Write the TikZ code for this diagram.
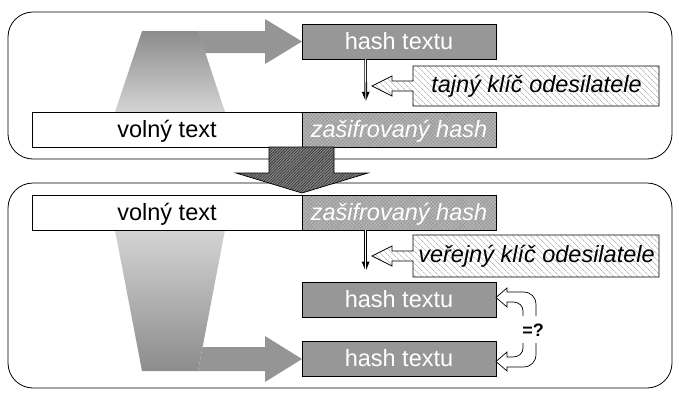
\documentclass[tikz,border=0pt]{standalone}
\usepackage{fontspec}
\setmainfont{Liberation Sans}
\usetikzlibrary{patterns,patterns.meta,arrows.meta}
\definecolor{hashgray}{HTML}{979797}
\definecolor{enc}{HTML}{999999}
\definecolor{encline}{HTML}{BCBCBC}
\definecolor{keyline}{HTML}{BDBDBD}
\definecolor{trapdark}{HTML}{8C8C8C}
\definecolor{traplight}{HTML}{D4D4D4}
\definecolor{arrowgray}{HTML}{959595}
\definecolor{downfill}{HTML}{8A8A8A}
\definecolor{downline}{HTML}{3A3A3A}
\begin{document}
\begin{tikzpicture}[x=1pt,y=-1pt,
  bigfont/.style={font=\fontsize{23.5}{28}\selectfont},
  box/.style={draw=black,line width=0.7pt,minimum height=35pt,inner sep=0pt,
    text height=15pt,text depth=0pt,bigfont},
  plainbox/.style={box,fill=white,minimum width=270pt},
  hashbox/.style={box,fill=hashgray,text=white,minimum width=194pt},
  encbox/.style={box,text=white,minimum width=194pt,
    font=\fontsize{23.5}{28}\selectfont\itshape,
    preaction={fill=enc},
    pattern={Hatch[angle=45,distance=2.5pt,line width=0.5pt]},pattern color=encline},
  keyshape/.style={draw=black,line width=0.7pt,preaction={fill=white},
    pattern={Lines[angle=-45,distance=4pt,line width=0.8pt]},pattern color=keyline},
  keytext/.style={inner sep=0pt,text height=15pt,text depth=0pt,
    font=\fontsize{23.5}{28}\selectfont\itshape},
  panel/.style={draw=black,line width=0.8pt,rounded corners=25pt},
  flowarrow/.style={fill=arrowgray},
  downarrow/.style={draw=black,line width=0.7pt,preaction={fill=downfill},
    pattern={Lines[angle=45,distance=2pt,line width=0.8pt]},pattern color=downline},
  dblarrow/.style={preaction={draw=black,line width=2.6pt,-{Triangle[width=7pt,length=10pt]}},
    draw=white,line width=0.9pt,shorten >=10pt},
  cmparrow/.style={draw=black,line width=0.7pt,fill=white},
]
\useasboundingbox (0,0) rectangle (679,400);

% panels
\draw[panel] (8,12) rectangle (672,159);
\draw[panel] (8,183) rectangle (672,388);

% top panel: hash flow
\shade[top color=trapdark,bottom color=traplight]
  (115,112) -- (142,31) -- (198,31) -- (225,112) -- cycle;
\fill[flowarrow] (198,31) -- (265,31) -- (265,19) -- (302,41.5) -- (265,64) -- (265,53) -- (205.3,53) -- cycle;

\node[plainbox] (vt1) at (167,129.5) {volný text};
\node[encbox] (zh1) at (399,129.5) {zašifrovaný hash};
\node[hashbox] (ht1) at (399,41.5) {hash textu};

\draw[keyshape] (659,66) -- (413,66) -- (413,81) -- (392,81) -- (392,76) -- (372,86)
  -- (392,96) -- (392,91) -- (413,91) -- (413,106) -- (659,106) -- cycle;
\node[keytext] (key1) at (536.5,85) {tajný klíč odesilatele};

\draw[dblarrow] ([xshift=64pt]ht1.south west) -- ([xshift=64pt]zh1.north west);

% bottom panel
\shade[top color=traplight,bottom color=trapdark]
  (115,230) -- (225,230) -- (198,371) -- (142,371) -- cycle;
\fill[flowarrow] (202.6,347) -- (265,347) -- (265,336) -- (302,359) -- (265,382) -- (265,371) -- (198,371) -- cycle;

\node[plainbox] (vt2) at (167,212.5) {volný text};
\node[encbox] (zh2) at (399,212.5) {zašifrovaný hash};
\node[hashbox] (ht2) at (399,299.5) {hash textu};
\node[hashbox] (ht3) at (399,359) {hash textu};

\draw[keyshape] (659,235) -- (413,235) -- (413,251) -- (392,251) -- (392,246) -- (372,256)
  -- (392,266) -- (392,261) -- (413,261) -- (413,277) -- (659,277) -- cycle;
\node[keytext] (key2) at (536.5,255) {veřejný klíč odesilatele};

\draw[dblarrow] ([xshift=64pt]zh2.south west) -- ([xshift=64pt]ht2.north west);

% comparison arrows
\draw[cmparrow] (536,316) -- (536,305) .. controls (536,297) and (531,292) .. (523,292)
  -- (507,292) -- (507,288) -- (496,297.5) -- (507,307) -- (507,302) -- (513,302)
  .. controls (519,302) and (523,306) .. (523,311) -- (523,316);
\draw[cmparrow] (536,343) -- (536,354) .. controls (536,362) and (531,367) .. (523,367)
  -- (507,367) -- (507,371) -- (496,361.5) -- (507,352) -- (507,357) -- (513,357)
  .. controls (519,357) and (523,353) .. (523,348) -- (523,343);
\node[font=\fontsize{18}{20}\selectfont\bfseries] (eq) at (533,330) {=?};

% big down arrow between panels
\draw[downarrow] (269,147) -- (334,147) -- (334,173) -- (368,173) -- (302,193) -- (236,173) -- (269,173) -- cycle;
\end{tikzpicture}
\end{document}
